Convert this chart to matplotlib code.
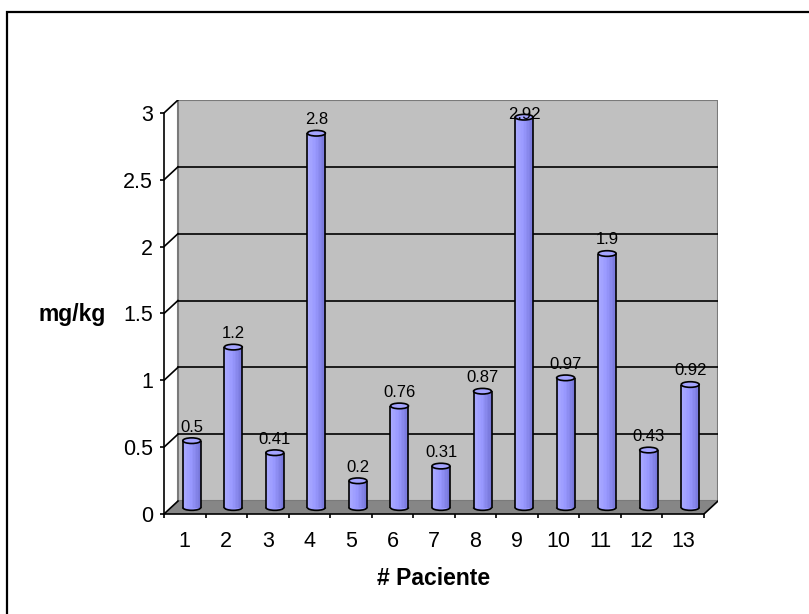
import numpy as np
import matplotlib.pyplot as plt
from matplotlib.patches import Rectangle, Polygon, Ellipse, Arc
from matplotlib.colors import to_rgb

plt.rcParams['font.family'] = ['Liberation Sans', 'DejaVu Sans']

pacientes = [str(i) for i in range(1, 14)]
valores = [0.5, 1.2, 0.41, 2.8, 0.2, 0.76, 0.31, 0.87, 2.92, 0.97, 1.9, 0.43, 0.92]
y_ticks = [0, 0.5, 1, 1.5, 2, 2.5, 3]

n = len(valores)
ymax = y_ticks[-1]
dx, dy = 0.337, 0.097      # depth offset of the back wall
w = 0.433                  # cylinder diameter
eh = 0.042                 # ellipse height of cylinder caps

fig = plt.figure(figsize=(8.09, 6.14), dpi=100)
fig.add_artist(Rectangle((7.5 / 809, -0.1), 1.2, 1.1 - 12.5 / 614, fill=False,
                         ec='black', lw=1.6, transform=fig.transFigure))

ax = fig.add_axes([164 / 809, 100 / 614, 554 / 809, 414 / 614])
ax.set_xlim(0, n + dx)
ax.set_ylim(0, ymax + dy)
ax.patch.set_visible(False)
for s in ['top', 'right']:
    ax.spines[s].set_visible(False)
ax.spines['left'].set_bounds(0, ymax)
ax.spines['bottom'].set_bounds(0, n)
ax.spines['left'].set_zorder(8)
ax.spines['bottom'].set_zorder(8)

# back wall, floor and side lines
ax.add_patch(Rectangle((dx, dy), n, ymax, fc='#c0c0c0', ec='#7a7a7a', lw=1.5, zorder=0))
ax.add_patch(Polygon([(0, 0), (n, 0), (n + dx, dy), (dx, dy)], closed=True,
                     fc='#868686', ec='none', zorder=0.5))
ax.plot([n, n + dx], [0, dy], color='black', lw=1.2, zorder=1)
for v in y_ticks[1:-1]:
    ax.plot([dx, n + dx], [v + dy, v + dy], color='black', lw=1.2, zorder=1)
for v in y_ticks:
    ax.plot([0, dx], [v, v + dy], color='black', lw=1.2, zorder=1)

# cylinders
base = np.array(to_rgb('#9999ff'))
light = np.array(to_rgb('#ababff'))
dark = np.array(to_rgb('#7474d6'))
nstrips = 12
t = (np.arange(nstrips) + 0.5) / nstrips
cols = []
for tt in t:
    if tt < 0.45:
        c = light + (base - light) * tt / 0.45
    else:
        c = base + (dark - base) * (tt - 0.45) / 0.55
    cols.append(c)

y0 = dy / 2
for i, v in enumerate(valores):
    cx = i + 0.5 + dx / 2
    ax.add_patch(Ellipse((cx, y0), w, eh, fc=base, ec='none', zorder=3))
    ax.add_patch(Arc((cx, y0), w, eh, theta1=180, theta2=360, color='black', lw=1.2, zorder=4))
    xs = cx - w / 2 + (t * w)
    ax.bar(xs, v, width=w / nstrips * 1.05, bottom=y0, color=cols, lw=0, zorder=3.1)
    ax.vlines([cx - w / 2, cx + w / 2], y0, y0 + v, color='black', lw=1.2, zorder=4)
    ax.add_patch(Ellipse((cx, y0 + v), w, eh, fc='#a4a4ff', ec='black', lw=1.2, zorder=4.5))
    ax.text(cx, min(v + 0.15, 2.99), f'{v:g}', ha='center', va='center',
            fontsize=12, zorder=6)

# axes ticks and labels
ax.set_yticks(y_ticks)
ax.set_yticklabels([f'{v:g}' for v in y_ticks])
ax.tick_params(axis='y', direction='out', length=3, width=1.2, pad=5, labelsize=15.5)
ax.set_xticks(np.arange(n + 1))
ax.set_xticklabels([])
ax.set_xticks(np.arange(n) + 0.5, minor=True)
ax.set_xticklabels(pacientes, minor=True)
ax.tick_params(axis='x', which='major', direction='out', length=3, width=1.2)
ax.tick_params(axis='x', which='minor', length=0, pad=12, labelsize=15.5)
for s in ['left', 'bottom']:
    ax.spines[s].set_linewidth(1.2)

ax.set_ylabel('mg/kg', rotation=0, fontsize=16.5, fontweight='bold', ha='center', va='center')
ax.yaxis.set_label_coords(-0.166, 0.481)
ax.set_xlabel('# Paciente', fontsize=16.5, fontweight='bold', va='center')
ax.xaxis.set_label_coords(0.486, -0.155)

fig.savefig('out.png', dpi=100)
